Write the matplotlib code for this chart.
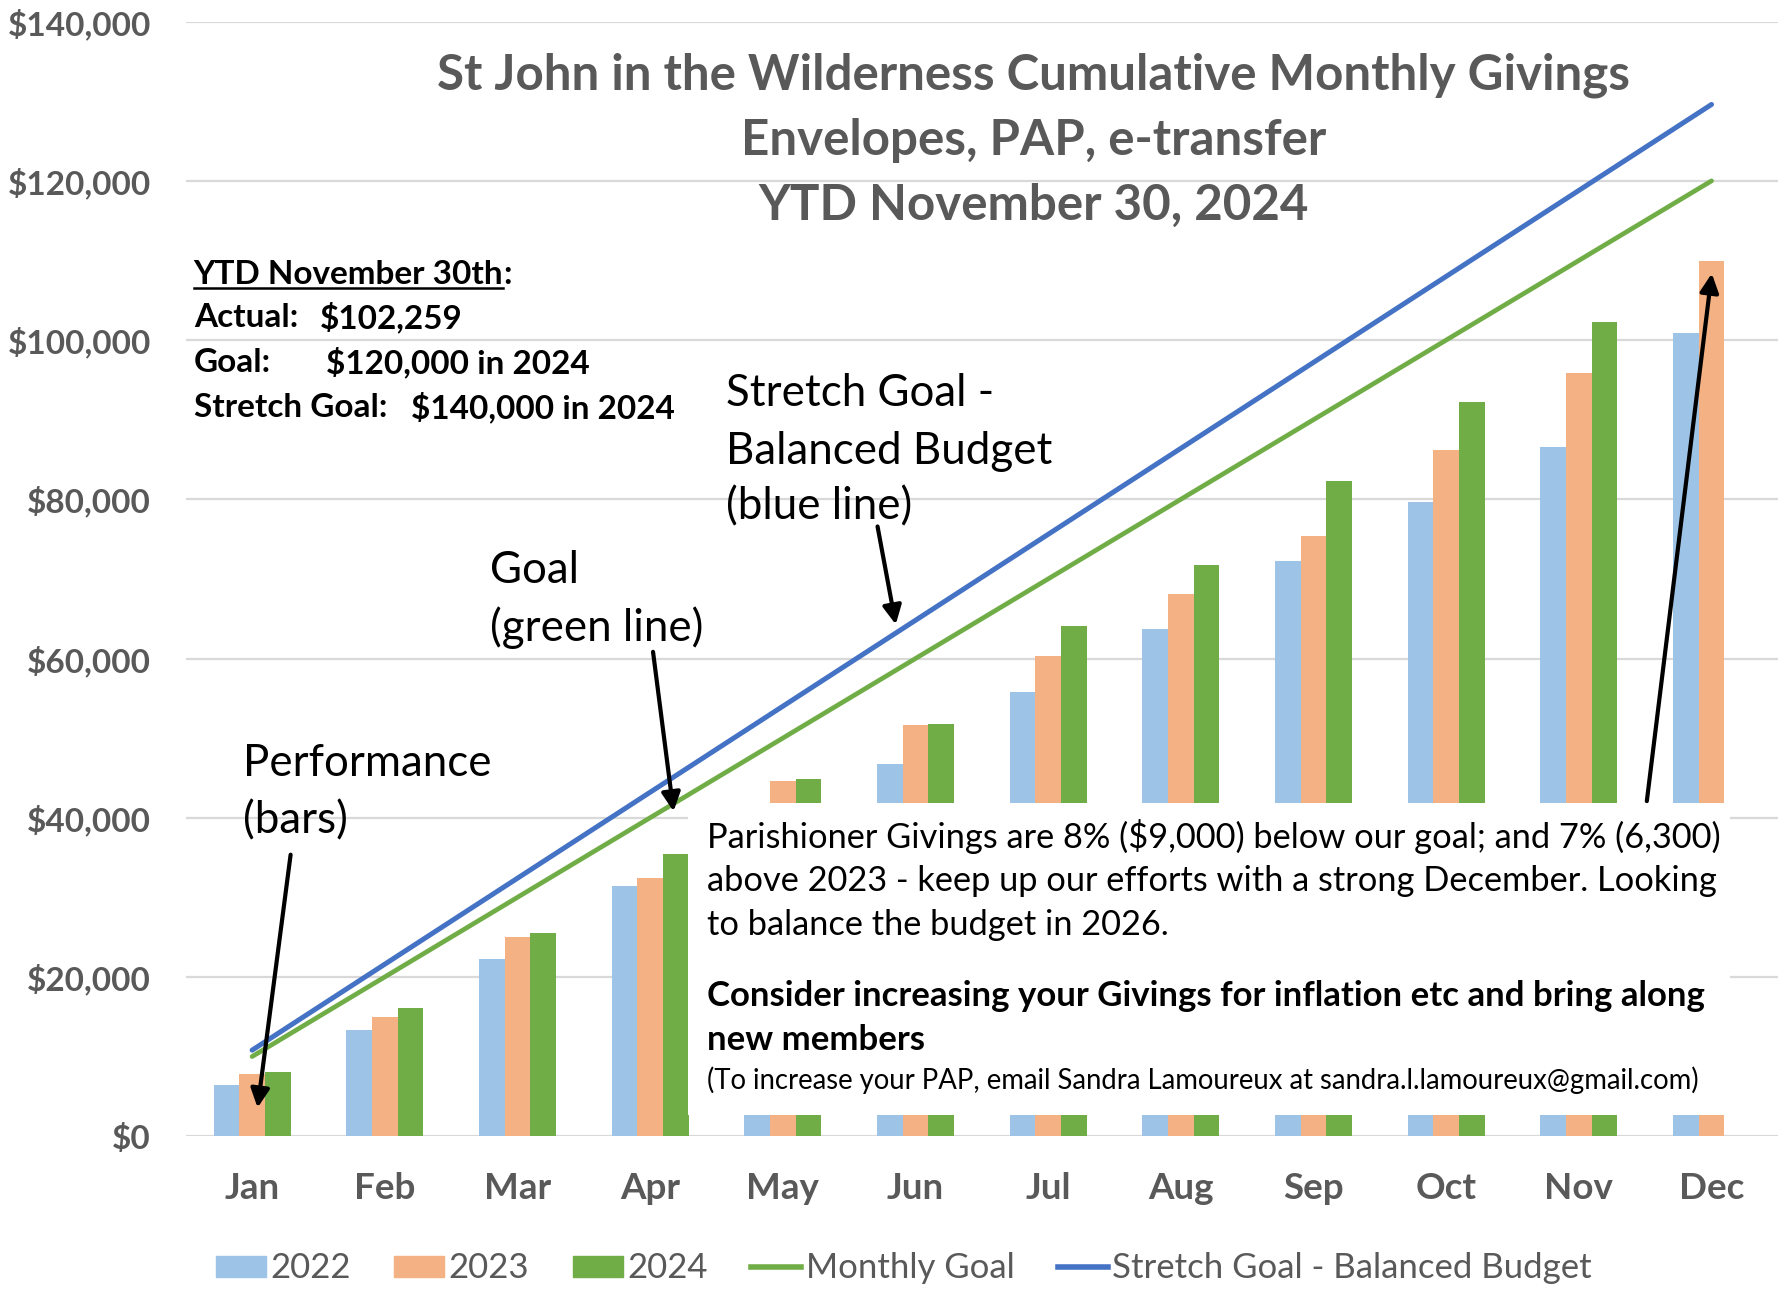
import numpy as np
import matplotlib.pyplot as plt
from matplotlib.patches import Patch, Rectangle
from matplotlib.lines import Line2D

plt.rcParams['font.family'] = ['Lato', 'DejaVu Sans']

# data
months = ['Jan', 'Feb', 'Mar', 'Apr', 'May', 'Jun', 'Jul', 'Aug', 'Sep', 'Oct', 'Nov', 'Dec']
givings_2022 = [6400, 13350, 22250, 31400, 39000, 46700, 55800, 63700, 72250, 79600, 86600, 100900]
givings_2023 = [7850, 15000, 25000, 32400, 44600, 51600, 60300, 68100, 75400, 86200, 95900, 109900]
givings_2024 = [8100, 16050, 25550, 35450, 44900, 51750, 64100, 71750, 82300, 92200, 102259, np.nan]
monthly_goal = [10000, 20000, 30000, 40000, 50000, 60000, 70000, 80000, 90000, 100000, 110000, 120000]
stretch_goal = [10800, 21600, 32400, 43200, 54000, 64800, 75600, 86400, 97200, 108000, 118800, 129600]
y_ticks = [0, 20000, 40000, 60000, 80000, 100000, 120000, 140000]
y_labels = ['$0', '$20,000', '$40,000', '$60,000', '$80,000', '$100,000', '$120,000', '$140,000']

GREY = '#595959'
C22, C23, C24 = '#9DC3E6', '#F4B183', '#70AD47'
GREEN, BLUE = '#70AD47', '#4472C4'

W, H = 1568, 1132  # reference coords (shrunk view)


def fx(x):
    return x / W


def fy(y):
    return 1 - y / H


fig = plt.figure(figsize=(17.87, 12.90), dpi=100)
ax = fig.add_axes([fx(163), fy(997), fx(1560) - fx(163), fy(19) - fy(997)])

x = np.arange(len(months))
w = 0.193
ax.bar(x - w, givings_2022, w, color=C22, zorder=2)
ax.bar(x, givings_2023, w, color=C23, zorder=2)
ax.bar(x + w, givings_2024, w, color=C24, zorder=2)
ax.plot(x, monthly_goal, color=GREEN, lw=3.4, zorder=4, solid_capstyle='round')
ax.plot(x, stretch_goal, color=BLUE, lw=3.6, zorder=4, solid_capstyle='round')

ax.set_xlim(-0.5, 11.5)
ax.set_ylim(0, 140000)
ax.set_yticks(y_ticks)
ax.set_yticklabels(y_labels)
ax.set_xticks(x)
ax.set_xticklabels(months)
ax.grid(axis='y', color='#D9D9D9', lw=1.6, zorder=0)
ax.set_axisbelow(True)
for s in ax.spines.values():
    s.set_visible(False)
ax.tick_params(length=0, labelcolor=GREY)
ax.tick_params(axis='y', pad=25, labelsize=24)
ax.tick_params(axis='x', pad=26, labelsize=26.5)
for lab in ax.get_xticklabels() + ax.get_yticklabels():
    lab.set_fontweight('bold')

# white text box covering the middle of the bars
ax.add_patch(Rectangle((fx(604), fy(978)), fx(1518) - fx(604), fy(705) - fy(978),
                       transform=fig.transFigure, facecolor='white', edgecolor='none', zorder=3))

renderer = fig.canvas.get_renderer()


def fit(texts, target):
    # scale a block of lines so its widest line matches the reference width
    widest = max(t.get_window_extent(renderer).width for t in texts)
    k = target * 1.1397 / widest
    for t in texts:
        t.set_fontsize(t.get_fontsize() * k)


# title
title = ['St John in the Wilderness Cumulative Monthly Givings', 'Envelopes, PAP, e-transfer', 'YTD November 30, 2024']
tt = [fig.text(fx(907), fy(y), s, ha='center', va='center', fontsize=34, fontweight='bold', color=GREY)
      for s, y in zip(title, [66, 123, 180])]
fit(tt[:1], 1047)
for t in tt[1:]:
    t.set_fontsize(tt[0].get_fontsize())

# YTD summary
info = []
info.append(fig.text(fx(170), fy(241), 'YTD November 30th', va='center', fontsize=21, fontweight='bold'))
info.append(fig.text(fx(170), fy(279), 'Actual:', va='center', fontsize=21, fontweight='bold'))
info.append(fig.text(fx(281), fy(279), '$102,259', va='center', fontsize=21, fontweight='bold'))
info.append(fig.text(fx(170), fy(318), 'Goal:', va='center', fontsize=21, fontweight='bold'))
info.append(fig.text(fx(286), fy(318), '$120,000 in 2024', va='center', fontsize=21, fontweight='bold'))
info.append(fig.text(fx(170), fy(358), 'Stretch Goal:', va='center', fontsize=21, fontweight='bold'))
info.append(fig.text(fx(361), fy(358), '$140,000 in 2024', va='center', fontsize=21, fontweight='bold'))
fit(info[-1:], 592 - 361)
for t in info[:-1]:
    t.set_fontsize(info[-1].get_fontsize())
bb = info[0].get_window_extent(renderer)
fig.add_artist(Line2D([bb.x0, bb.x1], [bb.y0 + 1, bb.y0 + 1], transform=None, color='black', lw=1.8))
fig.text(bb.x1 / fig.bbox.width, fy(241), ':', va='center', fontsize=info[0].get_fontsize(), fontweight='bold')

# annotations
ann = []
for s, y in zip(['Stretch Goal -', 'Balanced Budget', '(blue line)'], [345, 396, 445]):
    ann.append(fig.text(fx(637), fy(y), s, va='center', fontsize=32))
for s, y in zip(['Goal', '(green line)'], [501, 551]):
    ann.append(fig.text(fx(430), fy(y), s, va='center', fontsize=32))
for s, y in zip(['Performance', '(bars)'], [670, 720]):
    ann.append(fig.text(fx(213), fy(y), s, va='center', fontsize=32))
fit(ann[1:2], 286)
for t in ann:
    t.set_fontsize(ann[1].get_fontsize())

arrows = [((770, 462), (786, 548)), ((573, 572), (591, 712)), ((255, 750), (226, 972)), ((1445, 703), (1502, 240))]
for (x0, y0), (x1, y1) in arrows:
    ax.annotate('', xy=(fx(x1), fy(y1)), xytext=(fx(x0), fy(y0)), xycoords='figure fraction',
                textcoords='figure fraction', zorder=6,
                arrowprops=dict(arrowstyle='-|>', color='black', lw=3, mutation_scale=28, shrinkA=0, shrinkB=0))

# box text
box = []
for s, y in zip(['Parishioner Givings are 8% ($9,000) below our goal; and 7% (6,300)',
                 'above 2023 - keep up our efforts with a strong December. Looking',
                 'to balance the budget in 2026.'], [734, 773, 812]):
    box.append(fig.text(fx(620), fy(y), s, va='center', fontsize=23, zorder=5))
fit(box[:1], 892)
for t in box[1:]:
    t.set_fontsize(box[0].get_fontsize())
bold = []
for s, y in zip(['Consider increasing your Givings for inflation etc and bring along', 'new members'], [874, 913]):
    bold.append(fig.text(fx(620), fy(y), s, va='center', fontsize=23, fontweight='bold', zorder=5))
fit(bold[:1], 877)
bold[1].set_fontsize(bold[0].get_fontsize())
small = fig.text(fx(620), fy(948), '(To increase your PAP, email Sandra Lamoureux at sandra.l.lamoureux@gmail.com)',
                 va='center', fontsize=18, zorder=5)
fit([small], 870)

# legend
handles = [Patch(color=C22), Patch(color=C23), Patch(color=C24),
           Line2D([], [], color=GREEN, lw=4), Line2D([], [], color=BLUE, lw=4)]
labels = ['2022', '2023', '2024', 'Monthly Goal', 'Stretch Goal - Balanced Budget']
fig.legend(handles, labels, loc='center', bbox_to_anchor=(fx(793), fy(1113)), ncol=5, frameon=False,
           fontsize=25, labelcolor=GREY, handlelength=1.45, handleheight=0.55, handletextpad=0.12,
           columnspacing=1.25)

fig.savefig('out.png', dpi=100)
